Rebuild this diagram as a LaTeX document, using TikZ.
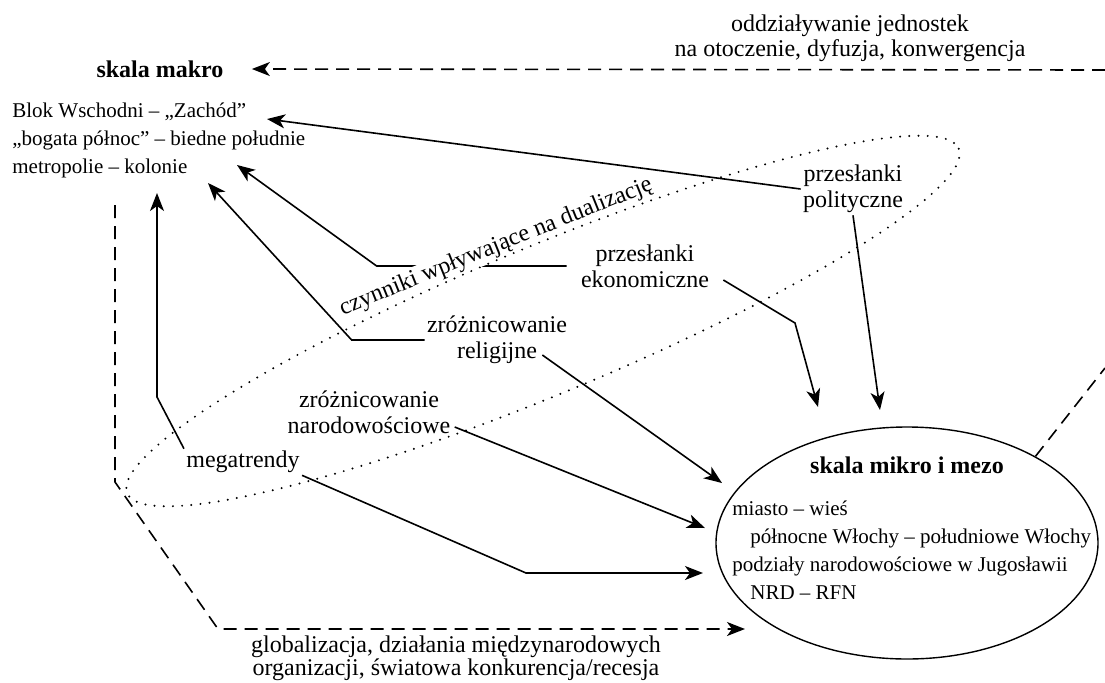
\documentclass[tikz,border=0pt]{standalone}
\usepackage{fontspec}
\setmainfont{Liberation Serif}
\usepackage{tikz}
\usetikzlibrary{positioning}
\usetikzlibrary{arrows.meta}
\usetikzlibrary{shapes.geometric}

\begin{document}
\begin{tikzpicture}[x=0.5pt, y=-0.5pt,
    every node/.style={inner sep=1pt, align=center, font=\fontsize{12}{13}\selectfont},
    lista/.style={align=left, font=\fontsize{10.5}{14}\selectfont},
    tytul/.style={font=\fontsize{12}{14}\selectfont\bfseries},
    strz/.style={line width=0.8pt, -{Stealth[length=9pt, width=7pt, inset=2.5pt]}},
    przer/.style={strz, dash pattern=on 6.5pt off 4pt},
    kropki/.style={line width=1.1pt, line cap=round, dash pattern=on 0pt off 4.6pt}]
    \useasboundingbox (0, 0) rectangle (1105, 682);

    \node (makro) [tytul] at (160, 69) {skala makro};
    \node (makrolista) [lista, anchor=west] at (10, 140) {Blok Wschodni – „Zachód”\\ „bogata północ” – biedne południe\\ metropolie – kolonie};
    \node (oddz) [font=\fontsize{12}{12.5}\selectfont] at (850, 38) {oddziaływanie jednostek\\ na otoczenie, dyfuzja, konwergencja};
    \node (polit) at (853, 189) {przesłanki\\ polityczne};
    \node (ekon) at (645, 266) {przesłanki\\ ekonomiczne};
    \node (relig) at (497, 340) {zróżnicowanie\\ religijne};
    \node (narod) at (369, 412) {zróżnicowanie\\ narodowościowe};
    \node (mega) at (243, 462) {megatrendy};
    \node (glob) [font=\fontsize{12}{11.5}\selectfont] at (456, 658) {globalizacja, działania międzynarodowych\\ organizacji, światowa konkurencja/recesja};

    \node (mikro) [draw, ellipse, line width=0.7pt, minimum width=191pt, minimum height=116pt] at (907, 543) {};
    \node (mikrotyt) [tytul] at (907, 465) {skala mikro i mezo};
    \node (mikrolista) [lista, anchor=west] at (730, 550) {miasto – wieś\\ \hspace*{9pt}północne Włochy – południowe Włochy\\ podziały narodowościowe w Jugosławii\\ \hspace*{9pt}NRD – RFN};

    % konce strzalek
    \coordinate (doWsch) at (267, 119);
    \coordinate (doEkon) at (237, 165);
    \coordinate (doRel) at (208, 183);
    \coordinate (doMega) at (157, 193);
    \coordinate (naPol) at (880, 410);
    \coordinate (naEkon) at (818, 407);
    \coordinate (naRel) at (722, 483);
    \coordinate (naNar) at (705, 528);
    \coordinate (naMega) at (703, 573);
    \coordinate (naGlob) at (745, 629);
    \coordinate (lewy) at (115, 205);
    \coordinate (brzegG) at (1105, 70);
    \coordinate (brzegP) at (1105, 368);

    \draw [strz] (polit.west) -- (doWsch);
    \draw [strz] (polit.south) -- (naPol);
    \draw [strz] ([xshift=-6pt]ekon.west) -- ++(-190, 0) -- (doEkon);
    \draw [strz] ([shift={(12, 14)}]ekon.east) -- (795, 323) -- (naEkon);
    \draw [strz] (relig.west) -- ++(-73, 0) -- (doRel);
    \draw [strz] ([shift={(-27, 15)}]relig.east) -- (naRel);
    \draw [strz] ([shift={(2, 15)}]narod.east) -- (naNar);
    \draw [strz] (mega.north west) -- (157, 397) -- (doMega);
    \draw [strz] (mega.south east) -- (526, 573) -- (naMega);

    \draw [przer] (lewy) -- (115, 482) -- (218, 629) -- (naGlob);
    \draw [przer] (brzegG) -- ([xshift=13pt]makro.east);
    \draw [przer, -] (mikro.34) -- (brzegP);

    \node (czynniki) [fill=white, rotate=22] at (496, 247) {czynniki wpływające na dualizację};
    \draw [kropki, rotate around={22.5:(543, 321)}] (543, 321) ellipse [x radius=450, y radius=74];
\end{tikzpicture}
\end{document}
